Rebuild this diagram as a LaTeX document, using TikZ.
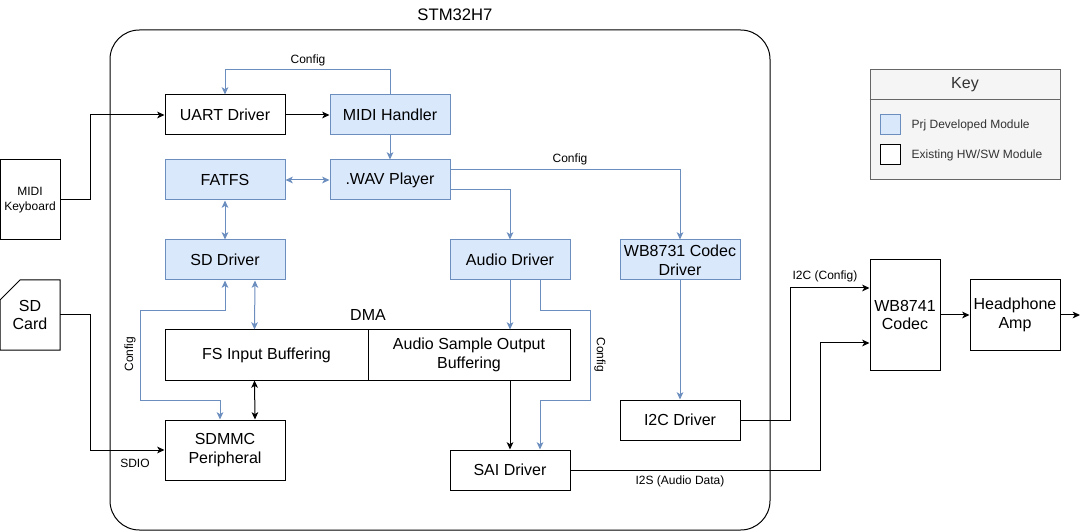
\documentclass[tikz,border=0pt]{standalone}
\usepackage{fontspec}
\setmainfont{Liberation Sans}
\usetikzlibrary{arrows.meta,calc}
\definecolor{bfill}{HTML}{DAE8FC}
\definecolor{bline}{HTML}{6C8EBF}
\definecolor{kfill}{HTML}{F5F5F5}
\definecolor{kline}{HTML}{666666}
\definecolor{ktext}{HTML}{333333}
\begin{document}
\begin{tikzpicture}[x=0.75pt,y=-0.75pt,
  tip/.tip={Stealth[length=5.5pt,width=5pt,inset=1.5pt]},
  box/.style={draw=black, fill=white, line width=0.75pt, inner sep=0pt, align=center,
    font=\fontsize{12}{14}\selectfont},
  dev/.style={box, draw=bline, fill=bfill},
  sz/.style 2 args={minimum width=#1*0.75pt, minimum height=#2*0.75pt},
  small/.style={font=\fontsize{9}{11}\selectfont, inner sep=1pt},
  arr/.style={draw=black, line width=0.75pt, -tip},
  both/.style={draw=black, line width=0.75pt, tip-tip},
  barr/.style={draw=bline, line width=0.75pt, -tip},
  bboth/.style={draw=bline, line width=0.75pt, tip-tip}]
\useasboundingbox (0,0) rectangle (1090,531);

% container
\node[draw=black, line width=0.75pt, rounded corners=22pt, sz={660}{500}, inner sep=0pt] (stm) at (440,280) {};
\node[font=\fontsize{12.5}{15}\selectfont] (title) at (455,15) {STM32H7};

% blocks
\node[box, sz={60}{80}, font=\fontsize{9}{11}\selectfont] (kb) at (30,200) {MIDI\\Keyboard};
\node[box, sz={120}{40}] (uart) at (225,115) {UART Driver};
\node[dev, sz={120}{40}] (midi) at (390,115) {MIDI Handler};
\node[dev, sz={120}{40}] (fatfs) at (225,180) {FATFS};
\node[dev, sz={120}{40}] (wav) at (390,180) {.WAV Player};
\node[dev, sz={120}{40}] (sddrv) at (225,260) {SD Driver};
\node[dev, sz={120}{40}] (audio) at (510,260) {Audio Driver};
\node[dev, sz={120}{40}] (codecdrv) at (680,260) {WB8731 Codec\\Driver};
\node[box, sz={203}{50}] (fsbuf) at (266.5,355) {FS Input Buffering};
\node[box, sz={202}{50}] (audbuf) at (469,355) {Audio Sample Output\\Buffering};
\node[font=\fontsize{12}{14}\selectfont] (dma) at (368,315) {DMA};
\node[box, sz={120}{60}] (sdmmc) at (225,450) {SDMMC\\Peripheral};
\node[box, sz={120}{40}] (sai) at (510,470) {SAI Driver};
\node[box, sz={120}{40}] (i2c) at (680,420) {I2C Driver};
\node[box, sz={70}{110}] (codec) at (905,315) {WB8741\\Codec};
\node[box, sz={90}{70}] (amp) at (1015,315) {Headphone\\Amp};
\coordinate (out) at (1080,315);

% SD card
\draw[line width=0.75pt, fill=white] (20,280) -- (60,280) -- (60,350) -- (0,350) -- (0,300) -- cycle;
\node[align=center, font=\fontsize{12}{14}\selectfont, minimum width=45pt, minimum height=52.5pt, inner sep=0pt] (sdcard) at (30,315) {SD\\Card};

% key
\node[draw=kline, fill=kfill, line width=0.75pt, sz={190}{110}, inner sep=0pt] (key) at (965,125) {};
\draw[draw=kline, line width=0.75pt] (key.north west) ++(0,30) -- ++(190,0);
\node[text=ktext, font=\fontsize{12}{14}\selectfont] (keyt) at (965,85) {Key};
\node[dev, sz={20}{20}] (k1) at (890,125) {};
\node[box, sz={20}{20}] (k2) at (890,155) {};
\node[small, text=ktext, anchor=west] (k1t) at (910,125) {Prj Developed Module};
\node[small, text=ktext, anchor=west] (k2t) at (910,155) {Existing HW/SW Module};

% connectors
\draw[arr] (kb.east) -- ++(30,0) |- (uart.west);
\draw[arr] (uart) -- (midi);
\draw[barr] (midi.north) -- ++(0,-25) -| (uart.north);
\node[small] (cfg1) at (308,60) {Config};
\draw[barr] (midi) -- (wav);
\draw[bboth] (fatfs) -- (wav);
\draw[bboth] (fatfs) -- (sddrv);
\draw[barr] ($(wav.east)+(0,-10)$) -| (codecdrv.north);
\node[small] (cfg2) at (570,159) {Config};
\draw[barr] ($(wav.east)+(0,10)$) -| (audio.north);
\draw[bboth] (sddrv.south) -- ++(0,30) -| (140,400) -| ($(sdmmc.north)+(-5,0)$);
\node[small, rotate=90] (cfg3) at (130,354) {Config};
\draw[bboth] ($(sddrv.south)+(30,0)$) -- ($(fsbuf.north west)+(90,0)$);
\draw[both] ($(fsbuf.south west)+(90,0)$) -- ($(sdmmc.north)+(30,0)$);
\draw[arr] (sdcard.east) -- ++(30,0) |- (sdmmc.west);
\node[small] (sdio) at (135,463) {SDIO};
\draw[barr] (audio.south) -- (audio.south |- audbuf.north);
\draw[barr] ($(audio.south)+(30,0)$) -- ++(0,30) -| (590,400) -| ($(sai.north)+(30,0)$);
\node[small, rotate=-90] (cfg4) at (600,355) {Config};
\draw[arr] (sai.north |- audbuf.south) -- (sai.north);
\draw[barr] (codecdrv) -- (i2c);
\draw[arr] (i2c.east) -- ++(50,0) |- ($(codec.west)+(0,-27)$);
\node[small] (i2cl) at (825,276) {I2C (Config)};
\draw[arr] (sai.east) -- ++(250,0) |- ($(codec.west)+(0,28)$);
\node[small] (i2sl) at (680,481) {I2S (Audio Data)};
\draw[arr] (codec) -- (amp);
\draw[arr] (amp.east) -- (out);
\end{tikzpicture}
\end{document}
